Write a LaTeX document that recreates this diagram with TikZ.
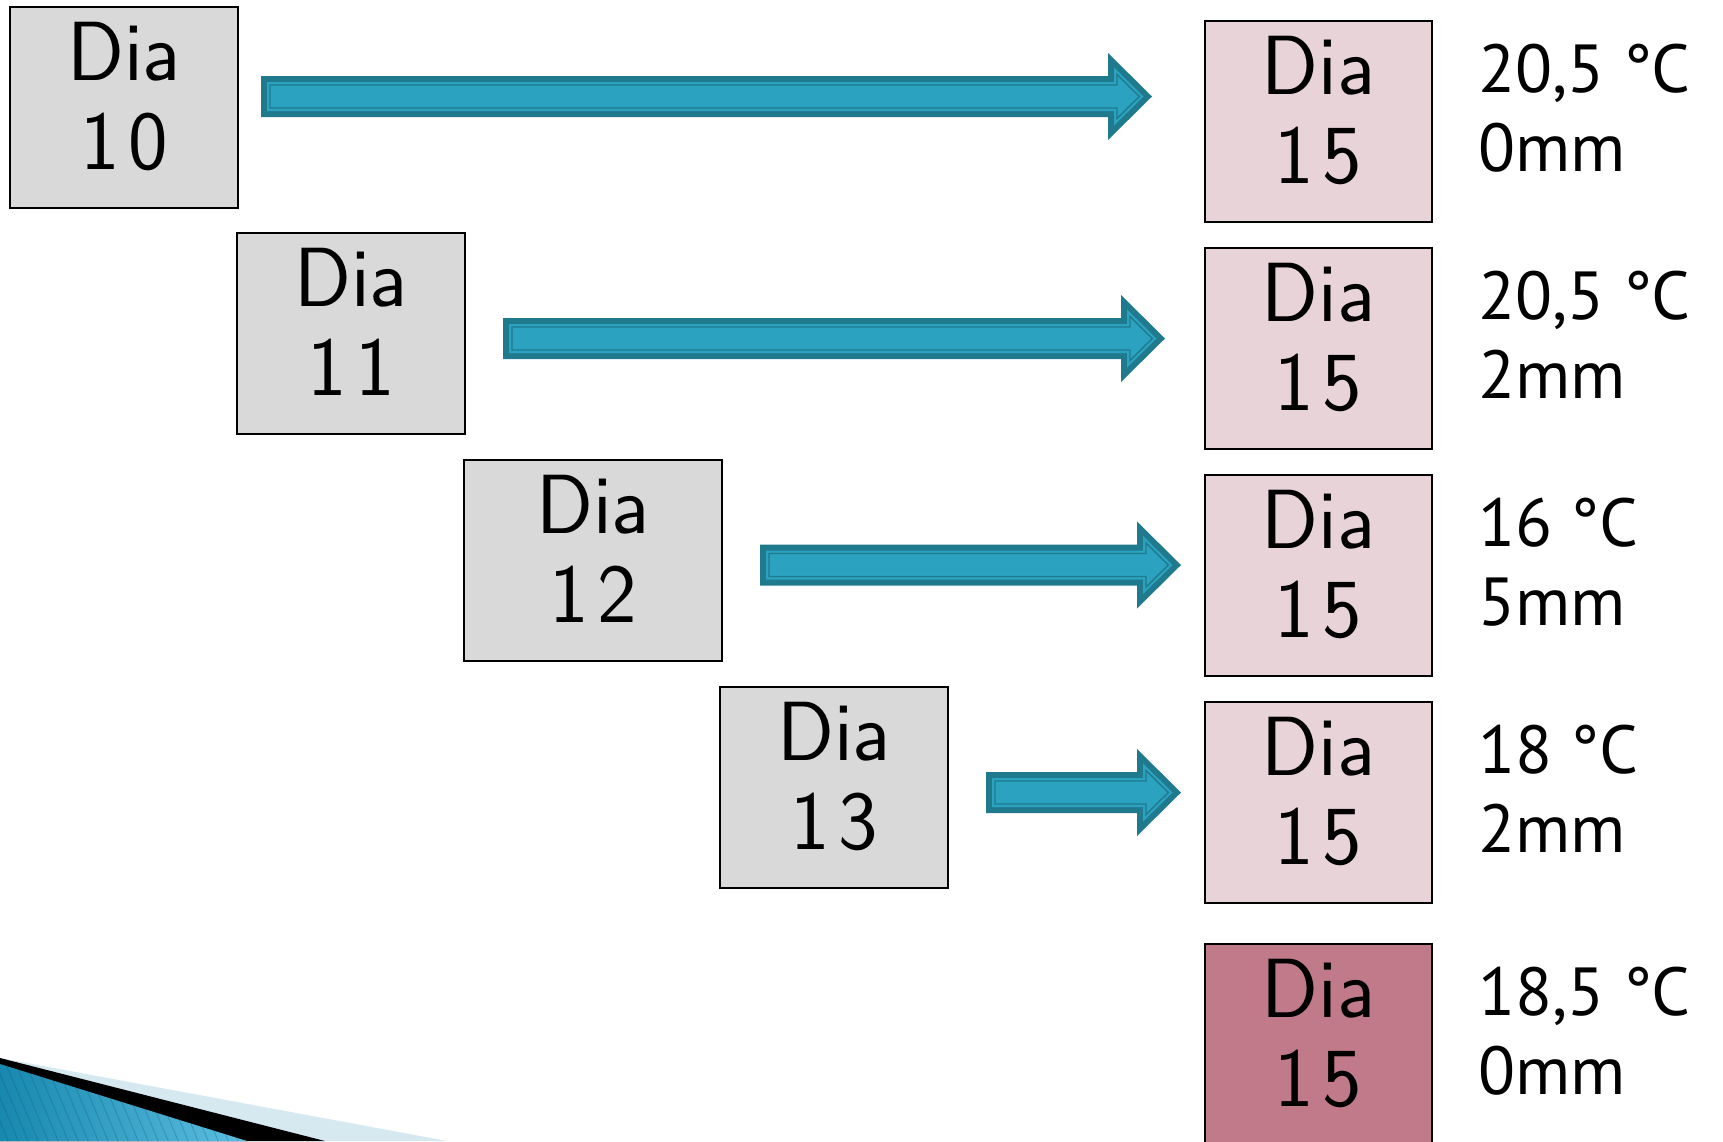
\documentclass[tikz,border=0pt]{standalone}
\usepackage{fontspec}
\newfontfamily\handfont{PT Sans}
\usetikzlibrary{calc}
\definecolor{grayfill}{HTML}{D9D9D9}
\definecolor{pinkfill}{HTML}{E8D3D9}
\definecolor{pinkdark}{HTML}{C07A89}
\definecolor{arrdark}{HTML}{1F7A8E}
\definecolor{arrlight}{HTML}{2BA2BF}
\definecolor{decolight}{HTML}{D6E9F1}
\definecolor{decoblueA}{HTML}{1888AE}
\definecolor{decoblueB}{HTML}{5DBFE2}
\newcommand{\tealarrow}[2]{%
 \fill[arrdark] ($(#1)+(0,-20.5)$) -- ($(#2)+(-44,-20.5)$) -- ($(#2)+(-44,-43.5)$) -- (#2) -- ($(#2)+(-44,43.5)$) -- ($(#2)+(-44,20.5)$) -- ($(#1)+(0,20.5)$) -- cycle;
 \fill[arrlight] ($(#1)+(6,-14.5)$) -- ($(#2)+(-38,-14.5)$) -- ($(#2)+(-38,-29)$) -- ($(#2)+(-8.5,0)$) -- ($(#2)+(-38,29)$) -- ($(#2)+(-38,14.5)$) -- ($(#1)+(6,14.5)$) -- cycle;
 \draw[arrdark, line width=0.7pt, line join=miter] ($(#1)+(9,-11.5)$) -- ($(#2)+(-35,-11.5)$) -- ($(#2)+(-35,-22)$) -- ($(#2)+(-12.7,0)$) -- ($(#2)+(-35,22)$) -- ($(#2)+(-35,11.5)$) -- ($(#1)+(9,11.5)$) -- cycle;
}
\begin{document}
\begin{tikzpicture}[x=0.5pt,y=-0.5pt,
  daybox/.style={draw=black, line width=1pt, inner sep=0pt, anchor=north west, minimum height=100.5pt},
  daytext/.style={anchor=base, inner sep=0pt, font=\sffamily\fontsize{42}{44}\selectfont},
  infotext/.style={anchor=base west, inner sep=0pt, font=\handfont\fontsize{34}{40}\selectfont},
]
\useasboundingbox (0,0) rectangle (1723,1141);
\fill[white] (0,0) rectangle (1723,1141);

% decoration bottom-left
\fill[decolight] (0,1058) -- (447,1141) -- (0,1141) -- cycle;
\fill[black] (0,1058) -- (325,1141) -- (0,1141) -- cycle;
\begin{scope}
\clip (0,1064) -- (247,1141) -- (0,1141) -- cycle;
\fill[left color=decoblueA, right color=decoblueB] (0,1060) rectangle (250,1145);
\foreach \i in {-120,-110,...,260}
  \draw[decoblueA!60!black, opacity=0.25, line width=0.5pt] (\i,1050) -- (\i+42,1150);
\end{scope}

% gray boxes
\node[daybox, fill=grayfill, minimum width=114pt] (g10) at (9,6) {};
\node[daybox, fill=grayfill, minimum width=114pt] (g11) at (236,232) {};
\node[daybox, fill=grayfill, minimum width=129pt] (g12) at (463,459) {};
\node[daybox, fill=grayfill, minimum width=114pt] (g13) at (719,686) {};
\foreach \n/\a/\b in {g10/1/0, g11/1/1, g12/1/2, g13/1/3}{
  \node[daytext] (\n-t1) at ($(\n.north)+(0,74)$) {Dia};
  \node[daytext] (\n-t2) at ($(\n.north)+(0,163)$) {\a\kern0.1em\b};
}

% pink boxes
\node[daybox, fill=pinkfill, minimum width=113.5pt] (p1) at (1204,20) {};
\node[daybox, fill=pinkfill, minimum width=113.5pt] (p2) at (1204,247) {};
\node[daybox, fill=pinkfill, minimum width=113.5pt] (p3) at (1204,474) {};
\node[daybox, fill=pinkfill, minimum width=113.5pt] (p4) at (1204,701) {};
\node[daybox, fill=pinkdark, minimum width=113.5pt, minimum height=106pt] (p5) at (1204,943) {};
\foreach \n in {p1,p2,p3,p4,p5}{
  \node[daytext] (\n-t1) at ($(\n.north)+(0,74)$) {Dia};
  \node[daytext] (\n-t2) at ($(\n.north)+(0,163)$) {1\kern0.1em5};
}

% info texts
\foreach \n/\ta/\tb in {p1/{20,5 °C}/0mm, p2/{20,5 °C}/2mm, p3/{16 °C}/5mm, p4/{18 °C}/2mm, p5/{18,5 °C}/0mm}{
  \node[infotext] (\n-i1) at ($(\n.north west)+(274,72)$) {\ta};
  \node[infotext] (\n-i2) at ($(\n.north west)+(274,151)$) {\tb};
}

% arrows
\coordinate (a1s) at (261,96.5);  \coordinate (a1e) at (1152,96.5);
\coordinate (a2s) at (503,338.5); \coordinate (a2e) at (1165,338.5);
\coordinate (a3s) at (760,565);   \coordinate (a3e) at (1181,565);
\coordinate (a4s) at (986,792.5); \coordinate (a4e) at (1181,792.5);
\tealarrow{a1s}{a1e}
\tealarrow{a2s}{a2e}
\tealarrow{a3s}{a3e}
\tealarrow{a4s}{a4e}
\end{tikzpicture}
\end{document}
